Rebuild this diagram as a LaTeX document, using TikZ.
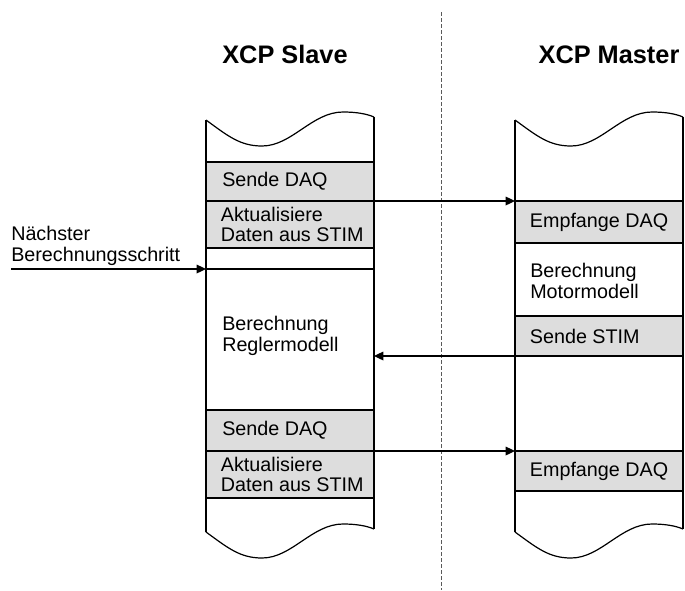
\documentclass[tikz,border=0pt]{standalone}
\usepackage{fontspec}
\setmainfont{Liberation Sans}
\usetikzlibrary{positioning}
\usetikzlibrary{arrows.meta}

\definecolor{cellgrey}{RGB}{221,221,221}

\tikzset{
  cell/.style={draw, line width=0.9pt, rectangle, anchor=north west, minimum width=126pt, inner sep=0pt, outer sep=0pt},
  greycell/.style={cell, fill=cellgrey},
  txt/.style={inner sep=0pt, align=left, font=\fontsize{14.8}{15.5}\selectfont},
  title/.style={inner sep=0pt, anchor=base, font=\fontsize{19}{22}\selectfont\bfseries},
  colline/.style={line width=0.9pt},
  msg/.style={line width=0.9pt, -{Triangle[length=7pt, width=6.5pt]}},
}

\begin{document}
\begin{tikzpicture}[x=0.75pt, y=-0.75pt]
  \useasboundingbox (0,0) rectangle (685,590);

  % divider between slave and master
  \draw[gray!70!black, line width=0.7pt, dash pattern=on 3pt off 1.5pt] (441,12) -- (441,590);

  \node[title] (slave) at (285,63) {XCP Slave};
  \node[title] (master) at (609,63) {XCP Master};

  % time lines with wavy ends
  \foreach \dx in {0,309}{
    \begin{scope}[shift={(\dx,0)}]
      \draw[colline] (206,120) .. controls (228,136) and (240,146) .. (262,146) .. controls (292,146) and (312,112) .. (343,112) .. controls (357,112) and (367,114) .. (374,117);
      \draw[colline, shift={(0,412)}] (206,120) .. controls (228,136) and (240,146) .. (262,146) .. controls (292,146) and (312,112) .. (343,112) .. controls (357,112) and (367,114) .. (374,117);
      \draw[colline] (206,120) -- (206,532);
      \draw[colline] (374,117) -- (374,529);
    \end{scope}
  }

  % slave
  \node[greycell, minimum height=29.25pt] (sendeA) at (206,162) {};
  \node[greycell, minimum height=35.25pt, below=0pt of sendeA] (aktualA) {};
  \node[cell, minimum height=15.75pt, below=0pt of aktualA] (gapA) {};
  \node[greycell, minimum height=30.75pt] (sendeB) at (206,410) {};
  \node[greycell, minimum height=35.25pt, below=0pt of sendeB] (aktualB) {};

  \node[txt, right=12pt of sendeA.west] (sendeAtxt) {Sende DAQ};
  \node[txt, right=11pt of aktualA.west] (aktualAtxt) {Aktualisiere\\Daten aus STIM};
  \node[txt, anchor=west] (reglerTxt) at (222,336) {Berechnung\\Reglermodell};
  \node[txt, right=12pt of sendeB.west] (sendeBtxt) {Sende DAQ};
  \node[txt, right=11pt of aktualB.west] (aktualBtxt) {Aktualisiere\\Daten aus STIM};

  % master
  \node[greycell, minimum height=31.5pt] (empfA) at (515,201) {};
  \node[greycell, minimum height=30pt] (sendeSTIM) at (515,316) {};
  \node[greycell, minimum height=30pt] (empfB) at (515,451) {};

  \node[txt, right=11pt of empfA.west] (empfAtxt) {Empfange DAQ};
  \node[txt, anchor=west] (motorTxt) at (530,281) {Berechnung\\Motormodell};
  \node[txt, right=11pt of sendeSTIM.west] (sendeSTIMtxt) {Sende STIM};
  \node[txt, right=11pt of empfB.west] (empfBtxt) {Empfange DAQ};

  % step trigger
  \node[txt, anchor=south west] (stepTxt) at (11,266) {Nächster\\Berechnungsschritt};

  % messages
  \draw[msg] (stepTxt.south west |- gapA.south west) -- (gapA.south west);
  \draw[msg] (sendeA.south east) -- (empfA.north west);
  \draw[msg] (sendeSTIM.south west) -- (gapA.east |- sendeSTIM.south west);
  \draw[msg] (sendeB.south east) -- (empfB.north west);
\end{tikzpicture}
\end{document}
